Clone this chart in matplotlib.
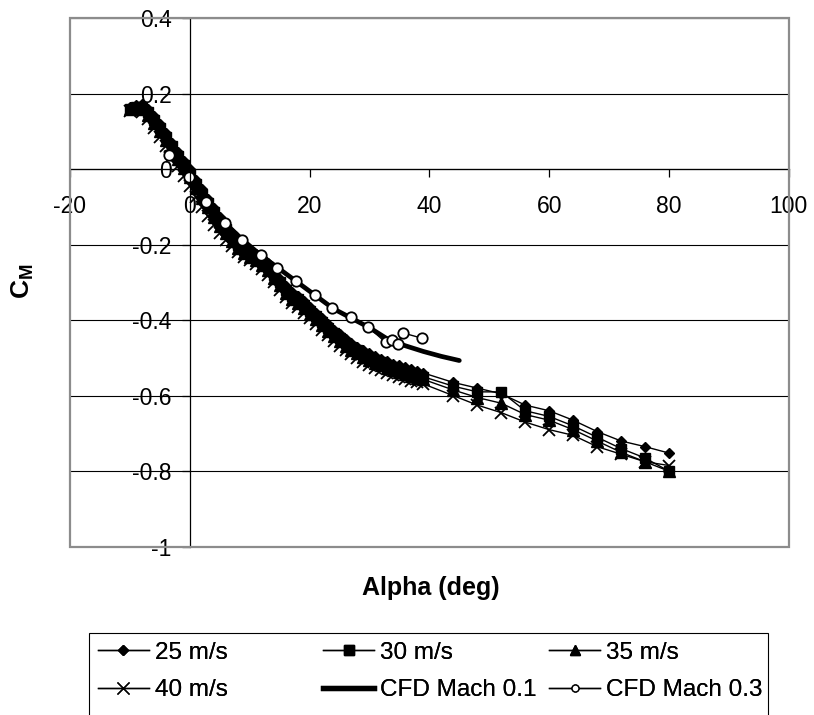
import matplotlib
matplotlib.use("Agg")
import matplotlib.pyplot as plt
from matplotlib.lines import Line2D
from matplotlib.patches import Rectangle

plt.rcParams['font.family'] = ['Liberation Sans', 'DejaVu Sans']
plt.rcParams['axes.unicode_minus'] = False
plt.rcParams['mathtext.fontset'] = 'custom'
plt.rcParams['mathtext.rm'] = 'Liberation Sans'
plt.rcParams['mathtext.bf'] = 'Liberation Sans:bold'

# ---------------- data ----------------
alpha_exp = [-10, -9, -8, -7, -6, -5, -4, -3, -2, -1,
             0, 1, 2, 3, 4, 5, 6, 7, 8, 9,
             10, 11, 12, 13, 14, 15, 16, 17, 18, 19,
             20, 21, 22, 23, 24, 25, 26, 27, 28, 29,
             30, 31, 32, 33, 34, 35, 36, 37, 38, 39,
             44, 48, 52, 56, 60, 64, 68, 72, 76, 80]

cm_25 = [0.165, 0.170, 0.172, 0.158, 0.140, 0.120, 0.095, 0.070, 0.045, 0.022,
         0.000, -0.028, -0.053, -0.078, -0.103, -0.128, -0.150, -0.170, -0.190, -0.205,
         -0.215, -0.225, -0.236, -0.250, -0.270, -0.290, -0.310, -0.325, -0.336, -0.350,
         -0.365, -0.380, -0.395, -0.410, -0.425, -0.438, -0.450, -0.460, -0.470, -0.480,
         -0.487, -0.495, -0.502, -0.509, -0.515, -0.520, -0.525, -0.530, -0.535, -0.540,
         -0.565, -0.580, -0.595, -0.625, -0.640, -0.665, -0.695, -0.720, -0.735, -0.752]

cm_30 = [0.160, 0.165, 0.165, 0.150, 0.130, 0.110, 0.085, 0.060, 0.035, 0.012,
         -0.012, -0.040, -0.065, -0.090, -0.115, -0.140, -0.160, -0.180, -0.200, -0.215,
         -0.225, -0.235, -0.245, -0.260, -0.280, -0.300, -0.320, -0.335, -0.345, -0.360,
         -0.375, -0.390, -0.405, -0.420, -0.435, -0.448, -0.460, -0.470, -0.480, -0.490,
         -0.497, -0.505, -0.512, -0.519, -0.525, -0.530, -0.535, -0.540, -0.545, -0.550,
         -0.575, -0.590, -0.590, -0.640, -0.655, -0.680, -0.710, -0.740, -0.765, -0.800]

cm_35 = [0.158, 0.162, 0.160, 0.143, 0.122, 0.100, 0.076, 0.051, 0.026, 0.003,
         -0.022, -0.050, -0.076, -0.101, -0.126, -0.150, -0.170, -0.190, -0.208, -0.222,
         -0.232, -0.242, -0.253, -0.268, -0.288, -0.308, -0.328, -0.343, -0.354, -0.368,
         -0.383, -0.398, -0.413, -0.428, -0.443, -0.456, -0.468, -0.478, -0.488, -0.498,
         -0.505, -0.513, -0.520, -0.527, -0.533, -0.538, -0.543, -0.548, -0.553, -0.557,
         -0.585, -0.605, -0.620, -0.650, -0.665, -0.690, -0.720, -0.750, -0.775, -0.800]

cm_40 = [0.155, 0.158, 0.152, 0.133, 0.110, 0.086, 0.060, 0.034, 0.008, -0.018,
         -0.045, -0.075, -0.100, -0.125, -0.148, -0.170, -0.188, -0.205, -0.220, -0.232,
         -0.242, -0.252, -0.264, -0.280, -0.300, -0.320, -0.340, -0.355, -0.366, -0.380,
         -0.395, -0.410, -0.425, -0.440, -0.455, -0.468, -0.480, -0.490, -0.500, -0.510,
         -0.518, -0.526, -0.533, -0.540, -0.546, -0.551, -0.556, -0.561, -0.565, -0.569,
         -0.600, -0.625, -0.645, -0.670, -0.690, -0.705, -0.735, -0.755, -0.775, -0.785]

alpha_cfd01 = [-4, 0, 3, 6, 9, 12, 15, 18, 21, 24, 27, 30, 33, 36, 39, 42, 45]
cm_cfd01 = [0.045, -0.025, -0.090, -0.145, -0.190, -0.230, -0.265, -0.300, -0.335,
            -0.370, -0.395, -0.420, -0.450, -0.468, -0.483, -0.496, -0.507]

alpha_cfd03 = [-3.4, -0.2, 2.7, 5.8, 8.7, 11.9, 14.6, 17.7, 20.9, 23.7, 26.9,
               29.7, 32.7, 33.7, 34.7, 35.6, 38.8]
cm_cfd03 = [0.037, -0.022, -0.087, -0.142, -0.188, -0.228, -0.262, -0.297, -0.333,
            -0.367, -0.392, -0.417, -0.459, -0.453, -0.463, -0.434, -0.448]

x_ticks = [-20, 0, 20, 40, 60, 80, 100]
x_tick_labels = ['-20', '0', '20', '40', '60', '80', '100']
y_ticks = [-1, -0.8, -0.6, -0.4, -0.2, 0, 0.2, 0.4]
y_tick_labels = ['-1', '-0.8', '-0.6', '-0.4', '-0.2', '0', '0.2', '0.4']

labels = ['25 m/s', '30 m/s', '35 m/s', '40 m/s', 'CFD Mach 0.1', 'CFD Mach 0.3']

# ---------------- figure ----------------
W, H = 814, 715
fig = plt.figure(figsize=(W / 100, H / 100), dpi=100)
L, R, T, B = 70, 788.7, 18, 546.7
ax = fig.add_axes([L / W, 1 - B / H, (R - L) / W, (B - T) / H])

lw = 1.0
ax.plot(alpha_exp, cm_25, color='black', lw=lw, marker='D', ms=5.6, mfc='black', mec='black')
ax.plot(alpha_exp, cm_30, color='black', lw=lw, marker='s', ms=7, mfc='black', mec='black')
ax.plot(alpha_exp, cm_35, color='black', lw=lw, marker='^', ms=8, mfc='black', mec='black')
ax.plot(alpha_exp, cm_40, color='black', lw=lw, marker='x', ms=8.5, mew=1.3, mec='black')
ax.plot(alpha_cfd01, cm_cfd01, color='black', lw=3.4, solid_capstyle='round')
ax.plot(alpha_cfd03, cm_cfd03, color='black', lw=lw, marker='o', ms=7.5, mfc='white',
        mec='black', mew=1.3)

ax.set_xlim(-20, 100)
ax.set_ylim(-1, 0.4)
ax.set_xticks(x_ticks)
ax.set_xticklabels(x_tick_labels)
ax.set_yticks(y_ticks)
ax.set_yticklabels(y_tick_labels)

ax.spines['left'].set_position(('data', 0))
ax.spines['bottom'].set_position(('data', 0))
ax.spines['top'].set_visible(False)
ax.spines['right'].set_visible(False)
for s in ('left', 'bottom'):
    ax.spines[s].set_color('black')
    ax.spines[s].set_linewidth(0.9)

ax.tick_params(axis='x', direction='out', length=6, width=0.9, pad=13, labelsize=16.5)
ax.tick_params(axis='y', direction='out', length=6, width=0.9, pad=7, labelsize=16.5)
ax.yaxis.grid(True, color='black', lw=0.8)
ax.set_axisbelow(True)

ax.add_patch(Rectangle((0, 0), 1, 1, transform=ax.transAxes, fill=False,
                       ec='#8c8c8c', lw=1.6, zorder=5, clip_on=False))

fig.text(431 / W, 1 - 588 / H, 'Alpha (deg)', ha='center', va='center',
         fontsize=18, fontweight='bold')
fig.text(23 / W, 1 - 281 / H, r'$\mathbf{C_M}$', ha='center', va='center',
         rotation=90, fontsize=19)

# ---------------- legend ----------------
def h(marker=None, ms=6, mfc='black', lwid=1.0):
    return Line2D([], [], color='black', lw=lwid, marker=marker, ms=ms,
                  mfc=mfc, mec='black')

handles = [h('D', 5.5), h('s', 6.5), h('^', 7.5), h('x', 8),
           h(None, lwid=3.8), h('o', 5, mfc='white')]

col_x = [97.7, 323.3, 549]
leg_top = 641.5
for i in range(3):
    lg = fig.legend([handles[i], handles[i + 3]], [labels[i], labels[i + 3]],
                    loc='upper left', bbox_to_anchor=(col_x[i] / W, 1 - leg_top / H),
                    bbox_transform=fig.transFigure, frameon=False, borderaxespad=0,
                    borderpad=0, handlelength=2.1, handletextpad=0.25,
                    labelspacing=0.64, fontsize=17.5)
    fig.add_artist(lg)

fig.add_artist(Rectangle((88.7 / W, -0.05), (768.3 - 88.7) / W, (1 - 633.3 / H) + 0.05,
                         transform=fig.transFigure, fill=False, ec='black', lw=0.8))

fig.savefig('out.png', dpi=100)
